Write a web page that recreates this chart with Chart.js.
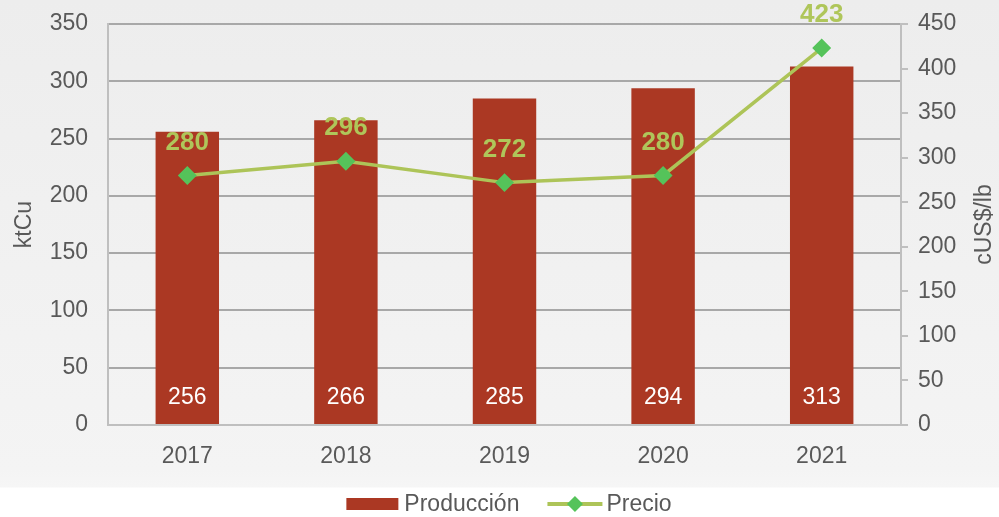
<!DOCTYPE html>
<html>
<head>
<meta charset="utf-8">
<script src="https://cdn.jsdelivr.net/npm/chart.js@4.4.1/dist/chart.umd.min.js"></script>
<style>
  html, body { margin: 0; padding: 0; }
  body {
    width: 999px; height: 517px; overflow: hidden;
    background: linear-gradient(to bottom, #ededed 0px, #f4f4f4 470px, #f6f6f6 487px, #ffffff 488px);
  }
  canvas { display: block; }
</style>
</head>
<body>
<canvas id="chart" width="999" height="517"></canvas>
<script>
// chart data
const years = ['2017', '2018', '2019', '2020', '2021'];
const produccion = [256, 266, 285, 294, 313];   // ktCu
const precio = [280, 296, 272, 280, 423];       // cUS$/lb

const RED = '#ab3823';
const LINE_GREEN = '#adc458';
const DOT_GREEN = '#55c35a';
const LABEL_GREEN = '#afc65a';
const TEXT = '#595959';
const FAMILY = '"Liberation Sans", Arial, sans-serif';

// value labels, axis titles and legend
const extrasPlugin = {
  id: 'extras',
  afterDatasetsDraw(chart) {
    const ctx = chart.ctx;
    const area = chart.chartArea;
    ctx.save();
    ctx.textAlign = 'center';
    ctx.textBaseline = 'middle';

    const bars = chart.getDatasetMeta(0).data;
    ctx.fillStyle = '#ffffff';
    ctx.font = '23px ' + FAMILY;
    bars.forEach((b, i) => {
      ctx.fillText(String(produccion[i]), b.x, b.base - 26);
    });

    const pts = chart.getDatasetMeta(1).data;
    ctx.fillStyle = LABEL_GREEN;
    ctx.font = 'bold 26px ' + FAMILY;
    pts.forEach((p, i) => {
      ctx.fillText(String(precio[i]), p.x, p.y - 33);
    });

    // axis titles, both reading bottom-to-top
    const midY = (area.top + area.bottom) / 2;
    ctx.fillStyle = TEXT;
    ctx.font = '23px ' + FAMILY;
    [['ktCu', 25], ['cUS$/lb', 985]].forEach(([t, x]) => {
      ctx.save();
      ctx.translate(x, midY);
      ctx.rotate(-Math.PI / 2);
      ctx.fillText(t, 0, 0);
      ctx.restore();
    });

    // legend
    const ly = 504;
    ctx.textAlign = 'left';
    const w1 = ctx.measureText('Producción').width;
    const w2 = ctx.measureText('Precio').width;
    const total = 52 + 6 + w1 + 28 + 55 + 4 + w2;
    let x = 509 - total / 2;
    ctx.fillStyle = RED;
    ctx.fillRect(x, ly - 6, 52, 12);
    x += 58;
    ctx.fillStyle = TEXT;
    ctx.fillText('Producción', x, ly + 1);
    x += w1 + 28;
    ctx.strokeStyle = LINE_GREEN;
    ctx.lineWidth = 4;
    ctx.beginPath(); ctx.moveTo(x, ly); ctx.lineTo(x + 55, ly); ctx.stroke();
    ctx.fillStyle = DOT_GREEN;
    const cx = x + 27.5;
    ctx.beginPath();
    ctx.moveTo(cx, ly - 8); ctx.lineTo(cx + 8, ly); ctx.lineTo(cx, ly + 8); ctx.lineTo(cx - 8, ly);
    ctx.closePath(); ctx.fill();
    x += 59;
    ctx.fillStyle = TEXT;
    ctx.fillText('Precio', x, ly + 1);
    ctx.restore();
  }
};

const font = { family: FAMILY, size: 23 };

function fixWidth(w) {
  return function (scale) {
    scale.width = w;
    scale.paddingTop = 0;
    scale.paddingBottom = 0;
  };
}

new Chart(document.getElementById('chart').getContext('2d'), {
  type: 'bar',
  data: {
    labels: years,
    datasets: [{
      type: 'bar',
      label: 'Producción',
      data: produccion,
      backgroundColor: RED,
      yAxisID: 'y',
      barPercentage: 0.8,
      categoryPercentage: 0.5,
      order: 2
    }, {
      type: 'line',
      label: 'Precio',
      data: precio,
      borderColor: LINE_GREEN,
      borderWidth: 3.5,
      tension: 0,
      pointStyle: 'rectRot',
      pointRadius: 7,
      pointBackgroundColor: DOT_GREEN,
      pointBorderColor: DOT_GREEN,
      yAxisID: 'y1',
      order: 1
    }]
  },
  options: {
    responsive: false,
    animation: false,
    layout: { padding: { top: 24, left: 0, right: 0, bottom: 30 } },
    plugins: {
      legend: { display: false },
      tooltip: { enabled: false }
    },
    scales: {
      x: {
        grid: { display: false },
        border: { color: '#bfbfbf', width: 2 },
        ticks: { color: TEXT, font: font, padding: 10 },
        afterFit(scale) { scale.height = 62; }
      },
      y: {
        position: 'left',
        min: 0, max: 350,
        ticks: { stepSize: 50, color: TEXT, font: font, padding: 20 },
        grid: { color: '#a8a8a8', lineWidth: 2, drawTicks: false },
        border: { color: '#bfbfbf', width: 2 },
        afterFit: fixWidth(108)
      },
      y1: {
        position: 'right',
        min: 0, max: 450,
        ticks: { stepSize: 50, color: TEXT, font: font, padding: 10 },
        grid: { drawOnChartArea: false, drawTicks: true, tickLength: 7, color: '#bfbfbf', lineWidth: 2 },
        border: { color: '#bfbfbf', width: 2 },
        afterFit: fixWidth(98)
      }
    }
  },
  plugins: [extrasPlugin]
});
</script>
</body>
</html>
